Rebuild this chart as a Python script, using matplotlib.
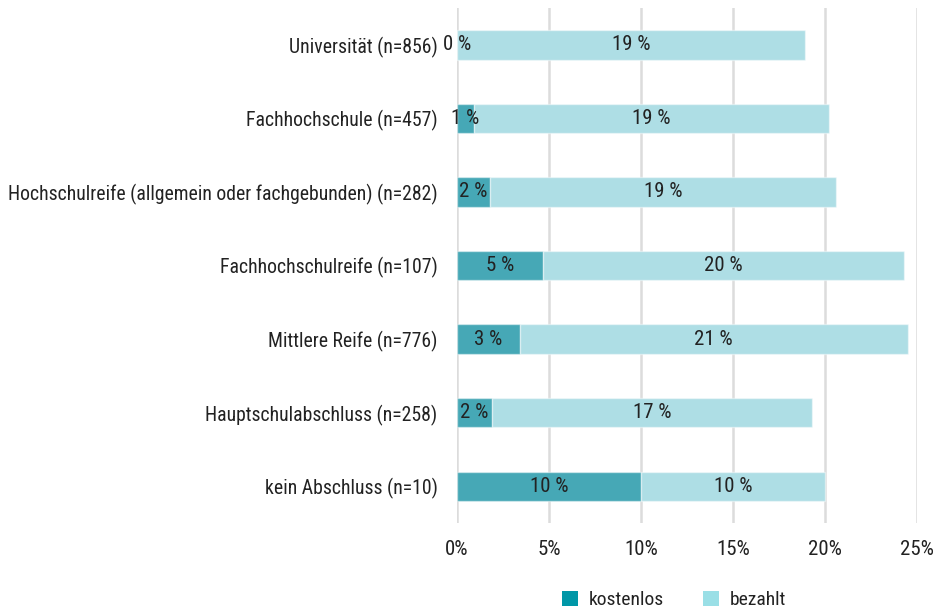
import matplotlib
matplotlib.use("Agg")
import matplotlib.pyplot as plt
from matplotlib.patches import Patch
import numpy as np

plt.rcParams['font.family'] = ['Roboto Condensed', 'Barlow Semi Condensed', 'DejaVu Sans']

categories = [
    "Universität (n=856)",
    "Fachhochschule (n=457)",
    "Hochschulreife (allgemein oder fachgebunden) (n=282)",
    "Fachhochschulreife (n=107)",
    "Mittlere Reife (n=776)",
    "Hauptschulabschluss (n=258)",
    "kein Abschluss (n=10)",
]
kostenlos = [0.0, 0.9, 1.8, 4.7, 3.4, 1.9, 10.0]
bezahlt = [18.9, 19.3, 18.8, 19.6, 21.1, 17.4, 10.0]
series_names = ["kostenlos", "bezahlt"]
xticks = [0, 5, 10, 15, 20, 25]

bar_colors = ["#46a8b6", "#aedee5"]
legend_colors = ["#0097a7", "#9adfe6"]
text_color = "#222222"
fs = 14.2
fs_bar = 15

fig = plt.figure(figsize=(9.42, 6.11), dpi=100)
ax = fig.add_axes([457/942, 1-523/611, 460/942, 515/611])

y = np.arange(len(categories))
edge = (1, 1, 1, 0.45)
ax.barh(y, kostenlos, height=0.4, color=bar_colors[0], edgecolor=edge, linewidth=1.0, zorder=3)
ax.barh(y, bezahlt, left=kostenlos, height=0.4, color=bar_colors[1], edgecolor=edge, linewidth=1.0, zorder=3)

for i in range(len(categories)):
    ax.text(kostenlos[i]/2, y[i], f"{round(kostenlos[i]):.0f} %", ha='center', va='center',
            fontsize=fs_bar, color=text_color, zorder=5)
    ax.text(kostenlos[i] + bezahlt[i]/2, y[i], f"{round(bezahlt[i]):.0f} %", ha='center', va='center',
            fontsize=fs_bar, color=text_color, zorder=5)

ax.set_xlim(0, 25)
ax.set_ylim(len(categories)-0.5, -0.5)
ax.set_yticks(y)
ax.set_yticklabels(categories, fontsize=fs, color=text_color)
ax.set_xticks(xticks)
ax.set_xticklabels([f"{t}%" for t in xticks], fontsize=fs_bar, color=text_color)
ax.tick_params(axis='y', length=0, pad=14)
ax.tick_params(axis='x', length=0, pad=12)
for s in ax.spines.values():
    s.set_visible(False)
ax.grid(axis='x', color='#dcdcdc', linewidth=1.8, zorder=0)
ax.set_axisbelow(True)

handles = [Patch(facecolor=legend_colors[0]), Patch(facecolor=legend_colors[1])]
fig.legend(handles, series_names, loc='center', bbox_to_anchor=(674/942, 1-600/611), ncol=2,
           frameon=False, fontsize=14, handlelength=0.82, handleheight=0.82,
           handletextpad=0.57, columnspacing=2.0, labelcolor=text_color)

fig.savefig("out.png", dpi=100)
